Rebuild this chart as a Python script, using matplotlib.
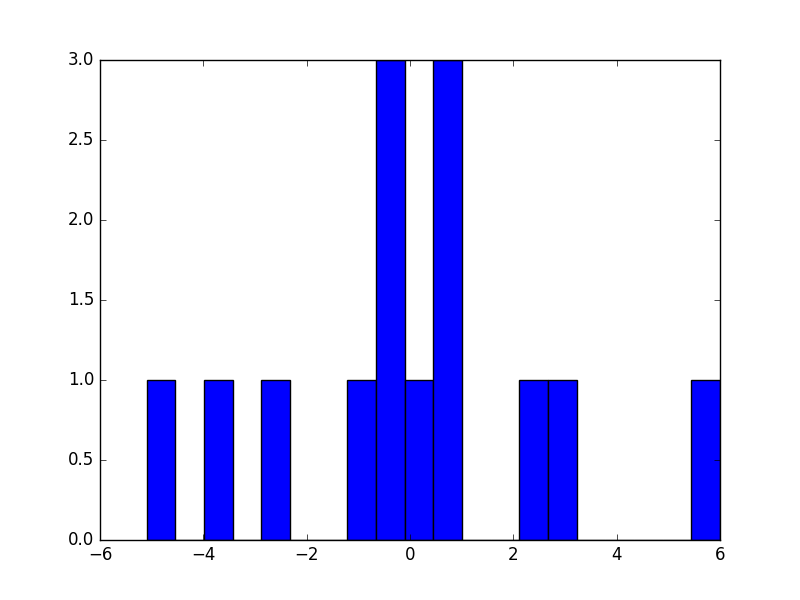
import matplotlib
matplotlib.use("Agg")
import matplotlib.pyplot as plt
import numpy as np

plt.style.use("classic")

# histogram data: 20 equal bins between lo and hi
bin_lo = -5.10
bin_hi = 6.00
n_bins = 20
counts = [1, 0, 1, 0, 1, 0, 0, 1, 3, 1, 3, 0, 0, 1, 1, 0, 0, 0, 0, 1]

edges = np.linspace(bin_lo, bin_hi, n_bins + 1)

fig = plt.figure(figsize=(8, 6), dpi=100)
ax = fig.add_axes([0.125, 0.1, 0.775, 0.8])
ax.hist(edges[:-1], bins=edges, weights=counts, color="blue", edgecolor="black")
ax.set_xlim(-6, 6)
ax.set_ylim(0, 3)
fig.savefig("out.png", dpi=100, facecolor="white")
